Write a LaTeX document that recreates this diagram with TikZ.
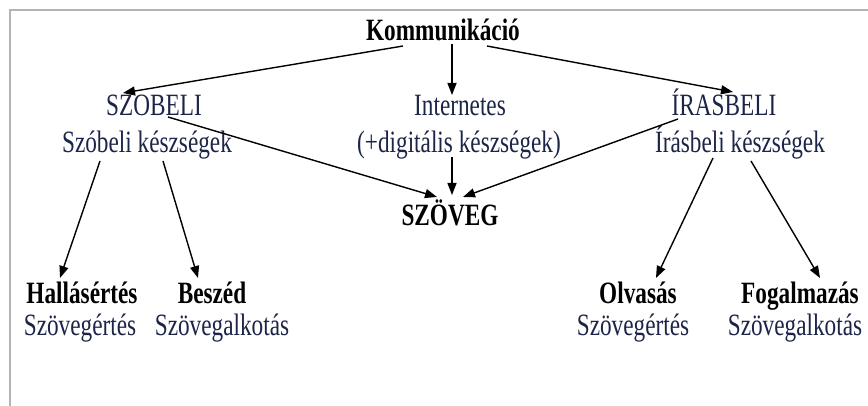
\documentclass[tikz,border=0pt]{standalone}
\usepackage{fontspec}
\setmainfont{Liberation Serif}[FakeStretch=0.75]
\usetikzlibrary{calc,arrows.meta}
\definecolor{navy}{HTML}{1C2448}
\definecolor{framegray}{HTML}{B4B4B4}
\tikzset{
  lbl/.style={anchor=base, inner sep=0pt, font=\fontsize{31}{33}\selectfont, text=navy},
  bld/.style={anchor=base, inner sep=0pt, font=\fontsize{31}{33}\selectfont\bfseries, text=black},
  arr/.style={line width=1.4pt, -{Triangle[length=12pt,width=9pt]}},
}
\begin{document}
\begin{tikzpicture}[x=1pt,y=-1pt]
\useasboundingbox (0,0) rectangle (868,406);
\draw[framegray, line width=2.8pt] (10,406) -- (10,10) -- (868,10);

\node[bld] (komm) at (443,41) {Kommunikáció};
\node[lbl] (szobeli) at (154,116) {SZOBELI};
\node[lbl] (szobk) at (147,153) {Szóbeli készségek};
\node[lbl] (internet) at (460,116) {Internetes};
\node[lbl] (digit) at (459,153) {(+digitális készségek)};
\node[lbl] (irasbeli) at (724,116) {ÍRASBELI};
\node[lbl] (irask) at (740,153) {Írásbeli készségek};
\node[bld] (szoveg) at (450,226) {SZÖVEG};
\node[bld] (hallas) at (82,303) {Hallásértés};
\node[lbl] (hszov) at (80,335) {Szövegértés};
\node[bld] (beszed) at (212,303) {Beszéd};
\node[lbl] (bszov) at (222,335) {Szövegalkotás};
\node[bld] (olvas) at (638,303) {Olvasás};
\node[lbl] (oszov) at (633,335) {Szövegértés};
\node[bld] (fogal) at (800,303) {Fogalmazás};
\node[lbl] (fszov) at (795,335) {Szövegalkotás};

\draw[arr] ($(komm.base)+(-40,5)$) -- ($(szobeli.base)+(-31,-23)$);
\draw[arr] ($(komm.base)+(9,3)$) -- ($(internet.base)+(-8,-21)$);
\draw[arr] ($(komm.base)+(44,5)$) -- ($(irasbeli.base)+(9,-24)$);
\draw[arr] ($(szobeli.base)+(14,1)$) -- ($(szoveg.base)+(-13,-29)$);
\draw[arr] ($(digit.base)+(-7,4)$) -- ($(szoveg.base)+(2,-31)$);
\draw[arr] ($(irasbeli.base)+(-46,3)$) -- ($(szoveg.base)+(13,-29)$);
\draw[arr] ($(szobk.base)+(-47,8)$) -- ($(hallas.base)+(-22,-25)$);
\draw[arr] ($(szobk.base)+(16,8)$) -- ($(beszed.base)+(-14,-25)$);
\draw[arr] ($(irask.base)+(-27,5)$) -- ($(olvas.base)+(18,-25)$);
\draw[arr] ($(irask.base)+(11,8)$) -- ($(fogal.base)+(20,-25)$);
\end{tikzpicture}
\end{document}
